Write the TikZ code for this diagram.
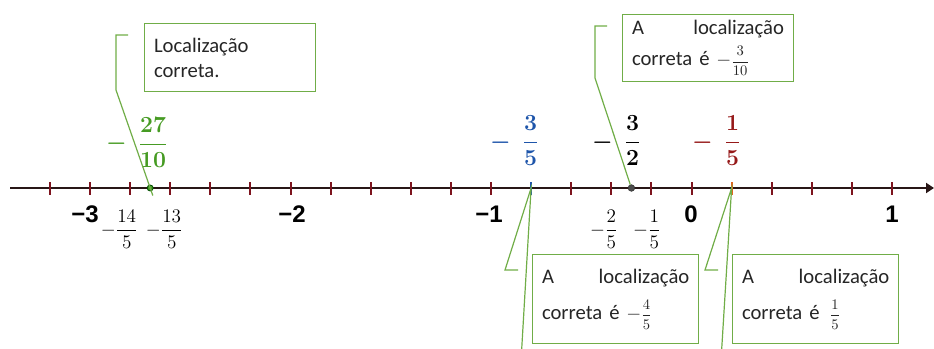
\documentclass[tikz,border=0pt]{standalone}
\usepackage{amsmath}
\usepackage{fontspec}
\setmainfont{Carlito}
\newfontfamily\axisfont{Liberation Sans}
\usetikzlibrary{arrows.meta,positioning}
\definecolor{call_green}{RGB}{112,173,71}
\definecolor{mark_green}{RGB}{70,155,35}
\definecolor{mark_blue}{RGB}{30,85,170}
\definecolor{mark_red}{RGB}{150,25,25}
\definecolor{tick_red}{RGB}{125,20,30}
\definecolor{axis_dark}{RGB}{40,22,22}
\definecolor{tick_orange}{RGB}{225,100,30}
\newcommand{\marca}[3]{\textcolor{#1}{\boldmath$-\;\,\dfrac{#2}{#3}$}}
\newcommand{\fracbaixo}[2]{$-\dfrac{#1}{#2}$}
\newcommand{\fracbox}[2]{{\fontsize{10.5}{12}\selectfont$\dfrac{#1}{#2}$}}

\begin{document}
\begin{tikzpicture}[x=0.75pt, y=-0.75pt,
    callout/.style={draw=call_green, line width=1pt, fill=white, text width=#1, inner xsep=7pt, align=left, font=\fontsize{15.5}{19}\selectfont, text=black!85},
    callline/.style={draw=call_green, line width=0.9pt},
    inteiro/.style={font=\axisfont\bfseries\fontsize{18}{20}\selectfont, inner sep=0pt, anchor=base},
    fracb/.style={font=\fontsize{15}{18}\selectfont, inner sep=0pt, anchor=base east},
    fracc/.style={font=\fontsize{17.5}{21}\selectfont, inner sep=0pt, anchor=base east},
    ponto/.style={circle, inner sep=0pt, minimum size=#1}]
    \useasboundingbox (0,0) rectangle (934,349);

    % Axis
    \coordinate (eixoini) at (10,188);
    \coordinate (eixofim) at (934,188);
    \draw[axis_dark, line width=1.7pt, -{Triangle[length=6pt,width=7.5pt]}] (eixoini) -- (eixofim);
    \foreach \k in {-16,...,5}
        \draw[tick_red, line width=1.5pt] (691.5+40.1*\k,182) -- (691.5+40.1*\k,195);
    \draw[mark_blue, line width=1.5pt] (531.1,182) -- (531.1,195);
    \draw[tick_orange, line width=1.5pt] (731.6,182) -- (731.6,195);
    \coordinate (tickazul) at (531.1,188);
    \coordinate (ticklaranja) at (731.6,188);

    % Integers
    \node[inteiro] (m3) at (85,222) {−3};
    \node[inteiro] (m2) at (292,222) {−2};
    \node[inteiro] (m1) at (489,222) {−1};
    \node[inteiro] (zero) at (691,222) {0};
    \node[inteiro] (um) at (892,222) {1};

    % Fractions under the axis
    \node[fracb] (m14) at (138,235) {\fracbaixo{14}{5}};
    \node[fracb] (m13) at (183,235) {\fracbaixo{13}{5}};
    \node[fracb] (m2q) at (618,235) {\fracbaixo{2}{5}};
    \node[fracb] (m1q) at (661,235) {\fracbaixo{1}{5}};

    % Marked fractions
    \node[fracc] (m27) at (168,150) {\marca{mark_green}{27}{10}};
    \node[fracc] (m3q) at (539,148) {\marca{mark_blue}{3}{5}};
    \node[fracc] (m3m) at (641,148) {\marca{black}{3}{2}};
    \node[fracc] (m1r) at (741,148) {\marca{mark_red}{1}{5}};

    % Points
    \node[ponto=4.5pt, fill=mark_green, draw=green!30!black, line width=0.6pt] (dotverde) at (150.2,188) {};
    \node[ponto=5pt, fill=black!70, draw=black!80] (dotcinza) at (631.4,188) {};

    % Callouts
    \node[callout=114pt, minimum height=51pt, anchor=north west] (boxa) at (144,23) {Localização\\correta.};
    \node[callout=114pt, minimum height=50pt, anchor=north west] (boxb) at (622,14) {A\hfill localização\\[4pt]correta é $-$\fracbox{3}{10}};
    \node[callout=110.5pt, minimum height=66.75pt, anchor=north west] (boxc) at (532,254) {A\hfill localização\\[8pt]correta é $-$\fracbox{4}{5}};
    \node[callout=110.5pt, minimum height=66.75pt, anchor=north west] (boxd) at (732,254) {A\hfill localização\\[8pt]correta é \,\fracbox{1}{5}};

    % Callout lines
    \coordinate (a1) at (128,35);
    \coordinate (a2) at (116,35);
    \coordinate (a3) at (116,90);
    \draw[callline, shorten >=-6pt] (a1) -- (a2) -- (a3) -- (dotverde.center);
    \coordinate (b1) at (607,26);
    \coordinate (b2) at (595,26);
    \coordinate (b3) at (595,78);
    \draw[callline] (b1) -- (b2) -- (b3) -- (dotcinza);
    \coordinate (c1) at (518,270);
    \coordinate (c2) at (505,270);
    \coordinate (c3) at (521.7,349);
    \draw[callline] (c1) -- (c2) -- (tickazul) -- (c3);
    \coordinate (d1) at (718,270);
    \coordinate (d2) at (705,270);
    \coordinate (d3) at (721.7,349);
    \draw[callline] (d1) -- (d2) -- (ticklaranja) -- (d3);
\end{tikzpicture}
\end{document}
